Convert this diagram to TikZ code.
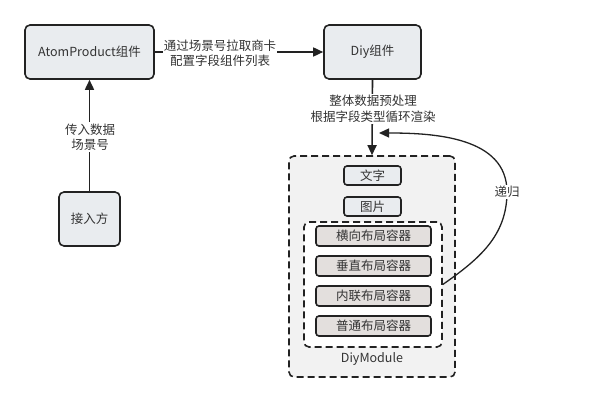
\documentclass[tikz,border=0pt]{standalone}
\usepackage{fontspec}
\setmainfont{Noto Sans CJK SC}
\usetikzlibrary{arrows.meta}
\definecolor{edge}{HTML}{222222}
\definecolor{txt}{HTML}{333333}
\definecolor{boxfill}{HTML}{E9ECEF}
\definecolor{confill}{HTML}{E3DFDD}
\definecolor{modfill}{HTML}{F2F2F2}
\begin{document}
\begin{tikzpicture}[x=1pt,y=-1pt,
  font=\fontsize{12.5}{15.5}\selectfont, text=txt,
  box/.style={draw=edge, line width=1.6pt, fill=boxfill, rounded corners=5pt, inner sep=0pt},
  smallbox/.style={draw=edge, line width=1.6pt, fill=boxfill, rounded corners=3pt, inner sep=0pt, minimum width=57pt, minimum height=19pt},
  conbox/.style={draw=edge, line width=1.6pt, fill=confill, rounded corners=3pt, inner sep=0pt, minimum width=115pt, minimum height=20pt},
  dbox/.style={draw=edge, line width=1.6pt, dash pattern=on 7pt off 4pt, rounded corners=5pt, inner sep=0pt},
  conn/.style={draw=edge, line width=1.6pt, -{Triangle[length=10pt,width=9pt]}},
  lbl/.style={fill=white, inner sep=1pt, align=center}]
\useasboundingbox (0,0) rectangle (598,403);
\node[box, minimum width=129pt, minimum height=54pt] (atom) at (89.5,52) {AtomProduct组件};
\node[box, minimum width=97pt, minimum height=54pt] (diy) at (372.5,52) {Diy组件};
\node[box, minimum width=61pt, minimum height=54pt] (jieru) at (89.5,219) {接入方};
\node[dbox, fill=modfill, minimum width=166pt, minimum height=221pt] (outer) at (372,266.5) {};
\node[smallbox] (wenzi) at (372.5,175.5) {文字};
\node[smallbox] (tupian) at (372.5,206.5) {图片};
\node[dbox, fill=white, minimum width=138pt, minimum height=125pt] (inner) at (373,284.5) {};
\node[conbox] (c1) at (373.5,236) {横向布局容器};
\node[conbox] (c2) at (373.5,266) {垂直布局容器};
\node[conbox] (c3) at (373.5,296) {内联布局容器};
\node[conbox] (c4) at (373.5,326) {普通布局容器};
\node (modlabel) at (372,359) {DiyModule};
% connectors
\draw[conn] (atom.east) -- (diy.west);
\node[lbl] (l1) at (220,53) {通过场景号拉取商卡\\配置字段组件列表};
\draw[conn] (jieru.north) -- (atom.south);
\node[lbl] (l2) at (90,137) {传入数据\\场景号};
\draw[conn] (diy.south) -- (outer.north);
\node[lbl] (l3) at (373,109) {整体数据预处理\\根据字段类型循环渲染};
\coordinate (rtop) at (507,192);
\coordinate (rend) at (379,133);
\draw[draw=edge, line width=1.3pt] (inner.east) to[out=35, in=-90] (rtop);
\draw[conn, line width=1.3pt] (rtop) to[out=90, in=0] (rend);
\node[lbl] (l4) at (rtop) {递归};
\end{tikzpicture}
\end{document}
